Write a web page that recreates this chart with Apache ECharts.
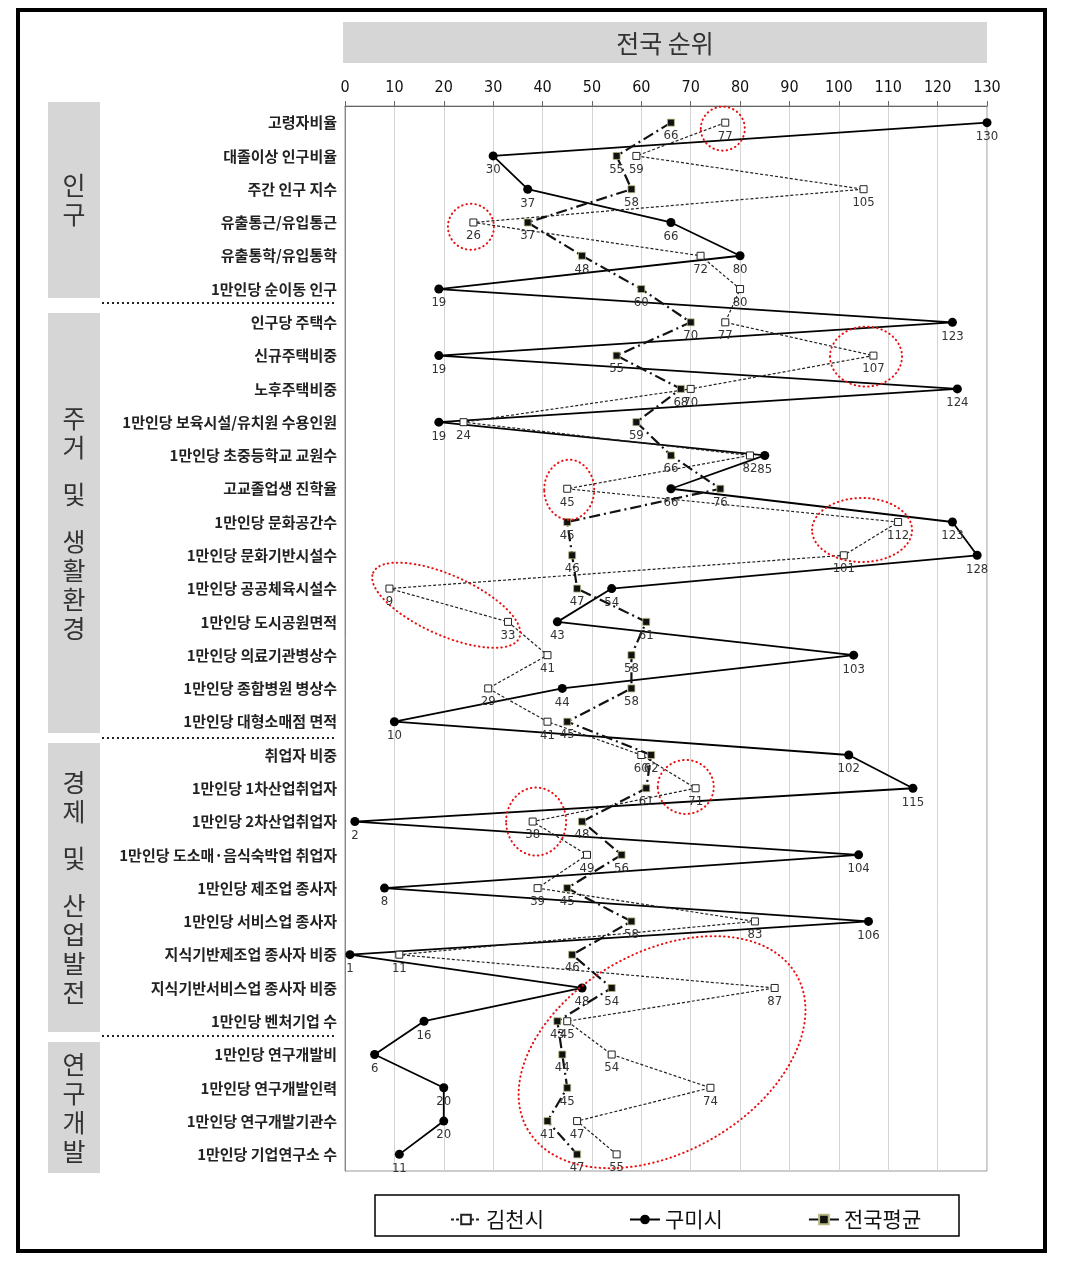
<!DOCTYPE html>
<html>
<head>
<meta charset="utf-8">
<script src="https://cdn.jsdelivr.net/npm/echarts@6/dist/echarts.min.js"></script>
<style>
html,body{margin:0;padding:0;background:#fff;}
#c{width:1091px;height:1273px;}
</style>
</head>
<body>
<div id="c"></div>
<script>
var categories = [
  '고령자비율','대졸이상 인구비율','주간 인구 지수','유출통근/유입통근','유출통학/유입통학','1만인당 순이동 인구',
  '인구당 주택수','신규주택비중','노후주택비중','1만인당 보육시설/유치원 수용인원','1만인당 초중등학교 교원수',
  '고교졸업생 진학율','1만인당 문화공간수','1만인당 문화기반시설수','1만인당 공공체육시설수','1만인당 도시공원면적',
  '1만인당 의료기관병상수','1만인당 종합병원 병상수','1만인당 대형소매점 면적',
  '취업자 비중','1만인당 1차산업취업자','1만인당 2차산업취업자','1만인당 도소매·음식숙박업 취업자',
  '1만인당 제조업 종사자','1만인당 서비스업 종사자','지식기반제조업 종사자 비중','지식기반서비스업 종사자 비중',
  '1만인당 벤처기업 수','1만인당 연구개발비','1만인당 연구개발인력','1만인당 연구개발기관수','1만인당 기업연구소 수'
];
var gimcheon = [77,59,105,26,72,80,77,107,70,24,82,45,112,101,9,33,41,29,41,60,71,38,49,39,83,11,87,45,54,74,47,55];
var gumi     = [130,30,37,66,80,19,123,19,124,19,85,66,123,128,54,43,103,44,10,102,115,2,104,8,106,1,48,16,6,20,20,11];
var national = [66,55,58,37,48,60,70,55,68,59,66,76,45,46,47,61,58,58,45,62,61,48,56,45,58,46,54,43,44,45,41,47];
var xTicks = [0,10,20,30,40,50,60,70,80,90,100,110,120,130];
var seriesNames = ['김천시','구미시','전국평균'];
var groups = [
  {name:'인구', chars:['인','구']},
  {name:'주거 및 생활환경', chars:['주','거',' ','및',' ','생','활','환','경']},
  {name:'경제 및 산업발전', chars:['경','제',' ','및',' ','산','업','발','전']},
  {name:'연구개발', chars:['연','구','개','발']}
];
// annotation ellipses in data space: value, row index (fractional)
var annotations = [
  {v:76.5,row:0.18,rx:22,ry:22,rot:0},
  {v:25.5,row:3.13,rx:23,ry:23,rot:0},
  {v:105.5,row:7.03,rx:36,ry:30,rot:0},
  {v:45.4,row:11.03,rx:25,ry:30,rot:0},
  {v:104.7,row:12.24,rx:50,ry:32,rot:0},
  {v:20.5,row:14.5,rx:80,ry:30,rot:-0.42},
  {v:69,row:19.96,rx:28,ry:27,rot:0},
  {v:38.7,row:21.0,rx:30,ry:34,rot:0},
  {v:64.2,row:27.93,rx:155,ry:100,rot:0.52}
];

var numFont = "'Liberation Sans Narrow','DejaVu Sans Condensed','Noto Sans',sans-serif";
var krFont = "'Noto Sans CJK KR','Noto Sans',sans-serif";

var chart = echarts.init(document.getElementById('c'));
var labelCfg = {show:true, position:'bottom', distance:3, fontSize:13, color:'#333', fontFamily:numFont};

chart.setOption({
  animation:false,
  backgroundColor:'#fff',
  grid:{left:345, right:104, top:106, bottom:102, show:true, borderColor:'#999', borderWidth:1},
  legend:{
    left:445, top:1204, itemGap:85, itemWidth:30, itemHeight:12,
    textStyle:{fontSize:21, color:'#111', fontFamily:krFont},
    data:seriesNames
  },
  xAxis:{
    type:'value', position:'top', min:0, max:130, interval:10,
    axisLine:{show:true, lineStyle:{color:'#666', width:1}},
    axisTick:{show:true, length:5, lineStyle:{color:'#666'}},
    axisLabel:{fontSize:16, color:'#111', fontFamily:numFont, margin:10,
      formatter:function(v){return xTicks.indexOf(v)>=0 ? String(v) : '';}},
    splitLine:{show:true, lineStyle:{color:'#d4d4d4', width:1}}
  },
  yAxis:{
    type:'category', inverse:true, data:categories,
    axisLine:{show:true, lineStyle:{color:'#888'}},
    axisTick:{show:false},
    axisLabel:{fontSize:15, fontWeight:'bold', color:'#222', fontFamily:krFont, margin:8},
    splitLine:{show:false}
  },
  series:[
    {name:seriesNames[0], type:'line', data:gimcheon, symbol:'rect', symbolSize:7, z:3,
     itemStyle:{color:'#fff', borderColor:'#222', borderWidth:1},
     lineStyle:{color:'#222', width:1.2, type:[3,2]},
     label:labelCfg},
    {name:seriesNames[1], type:'line', data:gumi, symbol:'circle', symbolSize:9, z:2,
     itemStyle:{color:'#000', borderColor:'#000', borderWidth:0},
     lineStyle:{color:'#000', width:1.8, type:'solid'},
     label:labelCfg},
    {name:seriesNames[2], type:'line', data:national, symbol:'rect', symbolSize:7, z:4,
     itemStyle:{color:'#111', borderColor:'#b8b880', borderWidth:0.8},
     lineStyle:{color:'#111', width:2.2, type:[11,4,2,4]},
     label:labelCfg}
  ]
});

// decorations
var g = [];
// outer frame
g.push({type:'rect', shape:{x:18,y:10,width:1027,height:1241}, style:{fill:'none', stroke:'#000', lineWidth:4}, z:100});
// title box
g.push({type:'rect', shape:{x:343,y:22,width:644,height:41}, style:{fill:'#d6d6d6'}, z:1});
g.push({type:'text', x:665, y:43, style:{text:'전국 순위', fontSize:25, fill:'#333', fontFamily:krFont, align:'center', verticalAlign:'middle'}, z:2});
// legend box
g.push({type:'rect', shape:{x:375,y:1195,width:584,height:41}, style:{fill:'none', stroke:'#000', lineWidth:1.5}, z:1});

// group boxes
var boxes = [[102,298],[313,733],[743,1032],[1042,1173]];
groups.forEach(function(gr, i){
  var b = boxes[i];
  g.push({type:'rect', shape:{x:48,y:b[0],width:52,height:b[1]-b[0]}, style:{fill:'#d6d6d6'}, z:1});
  var step = 29, sp = 18;
  var total = 0, n = 0;
  gr.chars.forEach(function(c){ if(c===' ') total += sp; else { if(n>0) total += step; n++; } });
  var y = (b[0]+b[1])/2 - total/2;
  var first = true;
  gr.chars.forEach(function(c){
    if(c===' '){ y += sp; return; }
    if(!first) y += step;
    first = false;
    g.push({type:'text', x:74, y:y, style:{text:c, fontSize:25, fill:'#333', fontFamily:krFont, align:'center', verticalAlign:'middle'}, z:2});
  });
});
// dotted separators
[303,738,1036].forEach(function(y){
  g.push({type:'line', shape:{x1:102,y1:y,x2:337,y2:y}, style:{stroke:'#222', lineWidth:2, lineDash:[2,3]}, z:2});
});

// annotation ellipses positioned from data coordinates
var r0 = chart.convertToPixel({yAxisIndex:0}, 0);
var r1 = chart.convertToPixel({yAxisIndex:0}, 1);
annotations.forEach(function(a){
  var cx = chart.convertToPixel({xAxisIndex:0}, a.v);
  var cy = r0 + (r1 - r0) * a.row;
  g.push({type:'ellipse', x:cx, y:cy, rotation:a.rot, shape:{cx:0, cy:0, rx:a.rx, ry:a.ry},
    style:{fill:'none', stroke:'#e81010', lineWidth:2, lineDash:[0.5,4], lineCap:'round'}, z:50});
});

chart.setOption({graphic:{elements:g}});
</script>
</body>
</html>
